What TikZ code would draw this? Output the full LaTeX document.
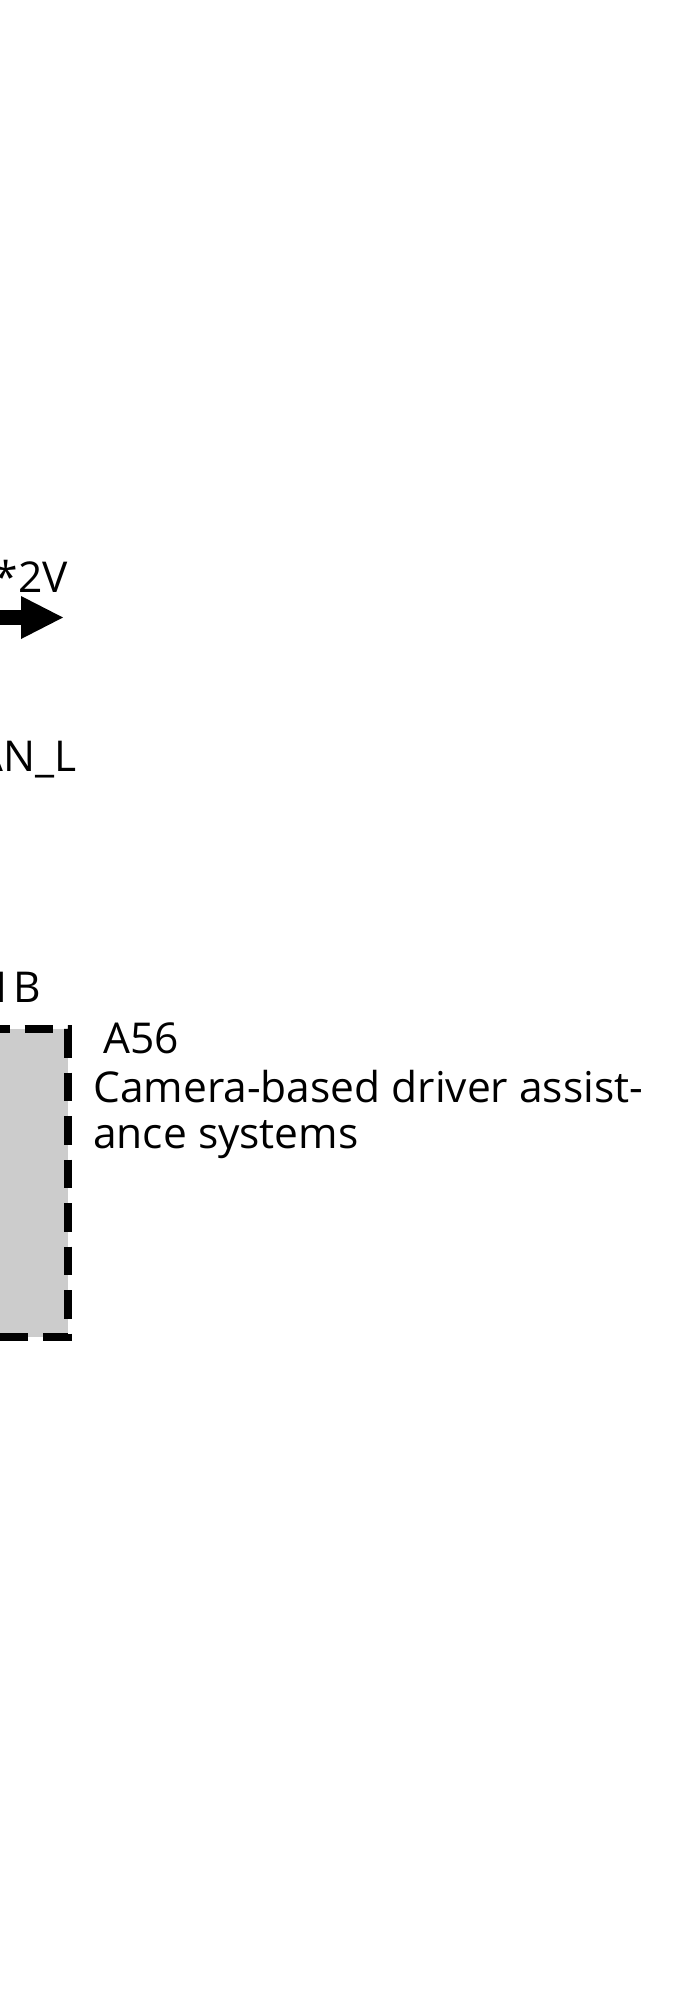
\documentclass[tikz,border=0pt]{standalone}
\usepackage{fontspec}
\setmainfont{Open Sans}
\usetikzlibrary{arrows.meta}
\begin{document}
\begin{tikzpicture}[x=1pt,y=-1pt,
  lbl/.style={inner sep=0pt, font=\fontsize{42.5}{46}\selectfont},
  boxfill/.style={fill=gray!40},
  boxedge/.style={draw=black, line width=7.5pt, dash pattern=on 28.5pt off 15pt},
  bigarrow/.style={line width=15pt, -{Triangle[length=42pt,width=43pt,line width=0pt]}}]
\useasboundingbox (0,0) rectangle (684,1998);
\clip (0,0) rectangle (684,1998);
\fill[white] (0,0) rectangle (684,1998);
\node[lbl, anchor=base east] (v2) at (68,592) {*2V};
\coordinate (arrs) at (-20,617.5);
\coordinate (arre) at (63,617.5);
\draw[bigarrow] (arrs) -- (arre);
\node[lbl, anchor=base east] (canl) at (77,771) {AN\_L};
\node[lbl, anchor=base east] (b1) at (41,1002) {1B};
\fill[boxfill] (-62.5,1029) rectangle (68,1337);
\draw[boxedge] (-62.5,1029) -- (68,1029) -- (68,1337) -- (-62.5,1337);
\node[lbl, anchor=base west] (a56) at (103,1053) {A56};
\node[lbl, anchor=base west] (cam1) at (93,1102) {Camera-based driver assist-};
\node[lbl, anchor=base west] (cam2) at (93,1148) {ance systems};
\end{tikzpicture}
\end{document}
